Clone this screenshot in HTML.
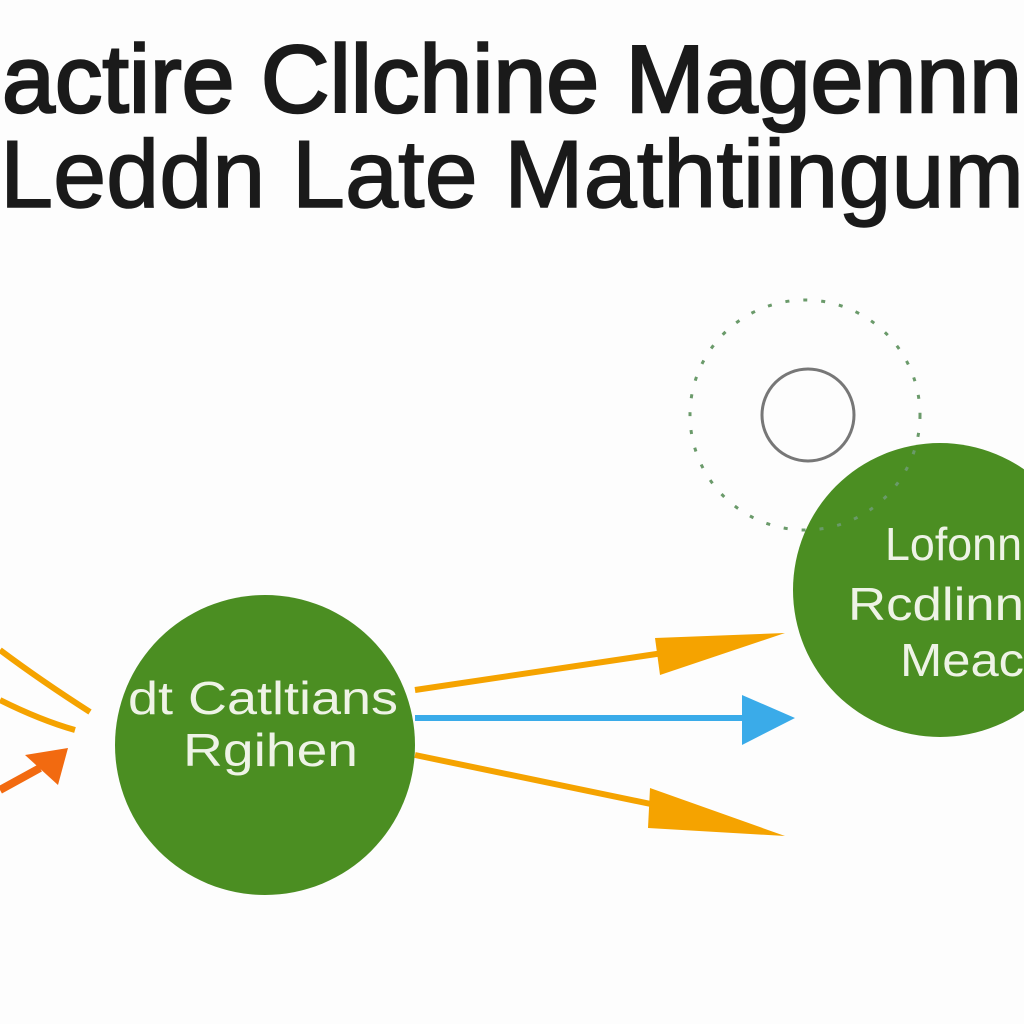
<!DOCTYPE html>
<html><head><style>
body{margin:0;width:1024px;height:1024px;background:#fdfdfd;overflow:hidden;position:relative;font-family:"Liberation Sans",sans-serif}
</style></head><body>
<svg width="1024" height="1024" style="position:absolute;left:0;top:0">
<g font-family="Liberation Sans" fill="#1a1a1a">
<text x="2" y="112" font-size="96" textLength="1020" lengthAdjust="spacingAndGlyphs" stroke="#1a1a1a" stroke-width="2.5">actire Cllchine Magennn</text>
<text x="0" y="207" font-size="96" textLength="1024" lengthAdjust="spacingAndGlyphs" stroke="#1a1a1a" stroke-width="1.5">Leddn Late Mathtiingum</text>
</g>
<circle cx="265" cy="745" r="150" fill="#4b8e22"/>
<circle cx="940" cy="590" r="147" fill="#4b8e22"/>
<circle cx="808" cy="415" r="46" fill="none" stroke="#777" stroke-width="3"/>
<circle cx="805" cy="415" r="115" fill="none" stroke="#6a9a6a" stroke-width="3" stroke-dasharray="4 14"/>
<g stroke="#f5a300" stroke-width="6" fill="none">
<line x1="415" y1="690" x2="670" y2="652"/>
<line x1="415" y1="755" x2="670" y2="808"/>
<path d="M0 650 Q40 680 90 712"/>
<path d="M0 700 Q40 720 75 730"/>
</g>
<polygon points="655,638 785,633 660,675" fill="#f5a300"/>
<polygon points="650,788 785,836 648,828" fill="#f5a300"/>
<line x1="415" y1="718" x2="750" y2="718" stroke="#3aabe9" stroke-width="6"/>
<polygon points="742,695 795,718 742,745" fill="#3aabe9"/>
<line x1="0" y1="790" x2="40" y2="768" stroke="#f26a10" stroke-width="8"/>
<polygon points="25,755 68,748 58,785" fill="#f26a10"/>
<g font-family="Liberation Sans" fill="#eef3e6" font-size="46">
<text x="128" y="714" textLength="270" lengthAdjust="spacingAndGlyphs">dt Catltians</text>
<text x="183" y="766" textLength="175" lengthAdjust="spacingAndGlyphs">Rgihen</text>
<text x="885" y="560" textLength="137" lengthAdjust="spacingAndGlyphs">Lofonn</text>
<text x="848" y="620" textLength="176" lengthAdjust="spacingAndGlyphs">Rcdlinn</text>
<text x="900" y="676" textLength="124" lengthAdjust="spacingAndGlyphs">Meac</text>
</g>
</svg>
</body></html>
